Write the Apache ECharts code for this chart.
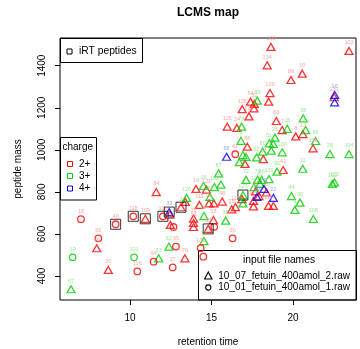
<!DOCTYPE html>
<html><head><meta charset="utf-8">
<script src="https://cdn.jsdelivr.net/npm/echarts@6/dist/echarts.min.js"></script>
<style>html,body{margin:0;padding:0;background:#fff}#c{width:360px;height:349px}</style>
</head><body><div id="c"></div>
<script>
// [retention time, peptide mass, peptide label]
// file 10_07_fetuin_400amol_2.raw (triangles)
const tri2 = [
 [7.96,532,'79'],[8.67,429,'20'],[10.94,672,'109'],[11.61,799,'84'],[12.45,692,''],
 [12.48,643,'123'],[13.13,727,'2'],[13.40,752,''],[14.26,738,'111'],[14.05,814,'14'],
 [14.69,811,'121'],[14.85,745,'91'],[15.15,745,''],[15.66,754,'48'],[13.90,673,'35'],
 [13.90,652,'53'],[13.90,633,''],[15.12,666,'58'],[14.80,624,'52'],[13.37,484,'76'],
 [16.24,717,'25'],[16.47,728,'115'],[17.58,731,''],[16.87,766,''],[17.70,802,'97'],
 [18.37,797,'45'],[17.91,780,''],[17.58,757,'114'],[18.50,733,'119'],[18.80,733,''],
 [18.65,1489,'105'],[23.44,1470,'103'],[18.42,1402,'134'],[20.57,1362,'10'],[19.88,1332,'89'],
 [18.59,1270,'129'],[17.40,1229,'54'],[17.63,1218,'32'],[18.51,1229,''],[16.89,1193,'135'],
 [17.61,1197,''],[17.30,1159,'128'],[22.53,1250,'131'],[18.98,1137,'63'],[15.97,1110,'125'],
 [16.56,1104,'24'],[19.34,1094,'7'],[20.61,1075,'13'],[20.17,1064,'8'],[21.23,1007,'106'],
 [17.20,1015,'88'],[18.18,956,'23'],[17.06,933,''],[19.40,904,'41']
];
const tri3 = [
 [6.38,337,'67'],[11.76,484,'93'],[12.39,540,'62'],[13.47,771,'126'],[14.51,828,'16'],
 [15.18,823,'102'],[15.58,835,'27'],[14.91,776,'81'],[14.54,685,'57'],[14.54,566,'77'],
 [15.87,663,'36'],[16.93,785,'127'],[16.93,745,''],[17.12,857,'72'],[17.83,857,'71'],
 [18.08,857,'46'],[18.53,861,'130'],[19.02,896,'90'],[17.61,823,'12'],[17.98,838,'59'],
 [19.91,780,'44'],[20.43,749,'30'],[20.12,714,'9'],[21.25,671,'108'],[22.42,838,'132'],
 [22.55,845,'122'],[17.81,1234,'83'],[20.63,1150,'38'],[16.85,1110,'74'],[19.65,1100,'15'],
 [20.78,1094,'49'],[18.90,1058,'26'],[21.39,1042,'66'],[16.81,1043,'1'],[18.55,1031,'51'],
 [18.79,1028,''],[18.14,991,'80'],[18.67,996,''],[19.34,988,'100'],[22.27,980,'28'],
 [23.44,980,'104'],[16.93,975,''],[17.12,966,''],[17.77,964,'92'],[16.71,941,''],
 [20.60,910,'11'],[15.44,888,'87']
];
const tri4 = [
 [12.41,704,'33'],[15.93,967,'68'],[18.22,814,'85'],[17.79,776,'98'],[18.80,771,'22'],
 [22.56,1261,'96'],[22.56,1226,'']
];
// file 10_01_fetuin_400amol_1.raw (circles)
const circ2 = [
 [6.99,670,'18'],[9.12,646,'40'],[8.06,579,'56'],[10.45,422,'116'],[10.20,684,'118'],
 [11.45,468,'64'],[12.82,540,'65'],[12.62,441,'37'],[12.02,684,'117'],[12.67,633,''],
 [15.17,634,''],[14.34,533,'132'],[14.50,492,''],[16.30,579,'60'],[16.46,979,'61']
];
const circ3 = [[6.48,489,'19'],[10.25,489,'101']];
// iRT peptides
const irt = [[9.12,646],[10.20,684],[10.94,672],[12.02,684],[12.41,704],[13.13,727],[14.80,624],[16.93,785]];

const xTicks = [10,15,20];
const yTicks = [400,600,800,1000,1200,1400];

const FONT = "'Liberation Sans', Arial, Helvetica, sans-serif";
const RED='#FF0000', GREEN='#00CD00', BLUE='#0000FF';
const LRED='#FF8C8C', LGREEN='#7FE07F', LBLUE='#8C8CFF';

function ser(data, symbol, size, color, lcolor){
  return {type:'scatter', data:data, symbol:symbol, symbolSize:size, silent:true,
    itemStyle:{color:'rgba(0,0,0,0)', borderColor:color, borderWidth:1.3},
    label:{show:true, position:'top', distance:1, fontSize:5.5, fontFamily:FONT, color:lcolor,
      formatter:function(p){return p.data[2];}},
    labelLayout:{hideOverlap:false},
    emphasis:{disabled:true}};
}

const chart = echarts.init(document.getElementById('c'), null, {renderer:'canvas'});
const T = [8,7];
chart.setOption({
  animation:false,
  grid:{left:60, right:4, top:38, bottom:49, show:true, borderColor:'#000', borderWidth:1, backgroundColor:'rgba(0,0,0,0)'},
  xAxis:{type:'value', min:5.705, max:23.87,
    axisLine:{show:false}, splitLine:{show:false},
    axisTick:{show:true, customValues:xTicks, length:5, lineStyle:{color:'#000'}},
    axisLabel:{customValues:xTicks, fontSize:10, fontFamily:FONT, color:'#000', margin:13,
      formatter:function(v){return String(v);}}},
  yAxis:{type:'value', min:285.9, max:1531.7,
    axisLine:{show:false}, splitLine:{show:false},
    axisTick:{show:true, customValues:yTicks, length:5, lineStyle:{color:'#000'}},
    axisLabel:{customValues:yTicks, rotate:90, fontSize:10, fontFamily:FONT, color:'#000', margin:13,
      formatter:function(v){return String(v);}}},
  series:[
    ser(tri2,'triangle',T,RED,LRED),
    ser(tri3,'triangle',T,GREEN,LGREEN),
    ser(tri4,'triangle',T,BLUE,LBLUE),
    ser(circ2,'circle',6.5,RED,LRED),
    ser(circ3,'circle',6.5,GREEN,LGREEN),
    {type:'scatter', data:irt, symbol:'rect', symbolSize:10, silent:true,
     itemStyle:{color:'rgba(0,0,0,0)', borderColor:'#000', borderWidth:1}, emphasis:{disabled:true}}
  ],
  graphic:[
    {type:'text', x:208, y:13, style:{text:'LCMS map', fontSize:12, fontWeight:'bold', fontFamily:FONT, fill:'#000', align:'center', verticalAlign:'middle'}},
    {type:'text', x:208, y:342, style:{text:'retention time', fontSize:10, fontFamily:FONT, fill:'#000', align:'center', verticalAlign:'middle'}},
    {type:'text', x:18, y:169, rotation:Math.PI/2, style:{text:'peptide mass', fontSize:10, fontFamily:FONT, fill:'#000', align:'center', verticalAlign:'middle'}},
    // iRT legend
    {type:'rect', shape:{x:60.5, y:38.5, width:82, height:24}, style:{fill:'rgba(0,0,0,0)', stroke:'#000', lineWidth:1}},
    {type:'rect', shape:{x:67, y:49, width:5, height:5}, style:{fill:'rgba(0,0,0,0)', stroke:'#000', lineWidth:1}},
    {type:'text', x:79, y:51.5, style:{text:'iRT peptides', fontSize:10.3, fontFamily:FONT, fill:'#000', verticalAlign:'middle'}},
    // charge legend
    {type:'rect', shape:{x:60.5, y:137.5, width:36, height:62.5}, style:{fill:'rgba(0,0,0,0)', stroke:'#000', lineWidth:1}},
    {type:'text', x:62.5, y:147, style:{text:'charge', fontSize:10, fontFamily:FONT, fill:'#000', verticalAlign:'middle'}},
    {type:'rect', shape:{x:67.5, y:161.5, width:5, height:5}, style:{fill:'rgba(0,0,0,0)', stroke:RED, lineWidth:1}},
    {type:'text', x:79, y:164, style:{text:'2+', fontSize:10, fontFamily:FONT, fill:'#000', verticalAlign:'middle'}},
    {type:'rect', shape:{x:67.5, y:173.5, width:5, height:5}, style:{fill:'rgba(0,0,0,0)', stroke:GREEN, lineWidth:1}},
    {type:'text', x:79, y:176, style:{text:'3+', fontSize:10, fontFamily:FONT, fill:'#000', verticalAlign:'middle'}},
    {type:'rect', shape:{x:67.5, y:186, width:5, height:5}, style:{fill:'rgba(0,0,0,0)', stroke:BLUE, lineWidth:1}},
    {type:'text', x:79, y:188.5, style:{text:'4+', fontSize:10, fontFamily:FONT, fill:'#000', verticalAlign:'middle'}},
    // file legend
    {type:'rect', shape:{x:198.5, y:250.5, width:158, height:49.5}, style:{fill:'rgba(0,0,0,0)', stroke:'#000', lineWidth:1}},
    {type:'text', x:279, y:260, style:{text:'input file names', fontSize:10.3, fontFamily:FONT, fill:'#000', align:'center', verticalAlign:'middle'}},
    {type:'polygon', shape:{points:[[208.3,272],[212,279],[204.6,279]]}, style:{fill:'rgba(0,0,0,0)', stroke:'#000', lineWidth:1.1}},
    {type:'text', x:218.3, y:276, style:{text:'10_07_fetuin_400amol_2.raw', fontSize:10, fontFamily:FONT, fill:'#000', verticalAlign:'middle'}},
    {type:'circle', shape:{cx:208.3, cy:287.5, r:2.6}, style:{fill:'rgba(0,0,0,0)', stroke:'#000', lineWidth:1.1}},
    {type:'text', x:218.3, y:287.5, style:{text:'10_01_fetuin_400amol_1.raw', fontSize:10, fontFamily:FONT, fill:'#000', verticalAlign:'middle'}}
  ]
});
</script>
</body></html>
